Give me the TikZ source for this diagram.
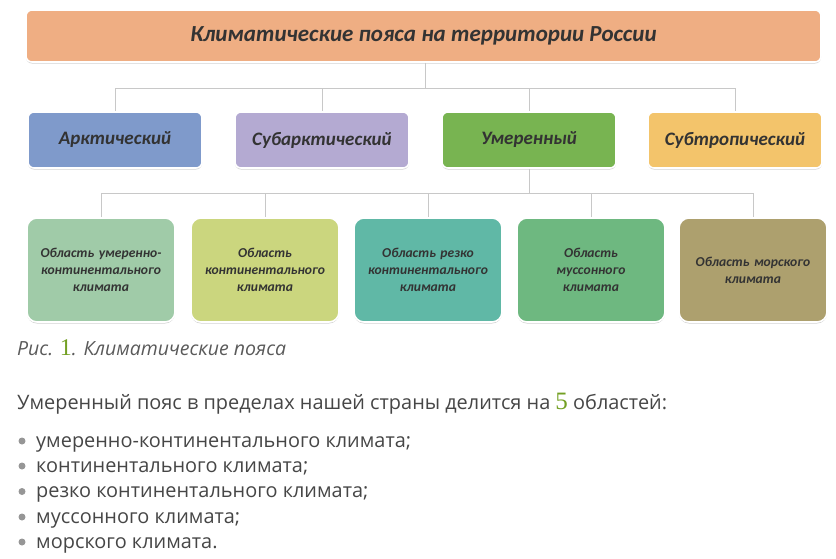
\documentclass[tikz,border=0pt]{standalone}
\usepackage{fontspec}
\setmainfont{Open Sans}
\newfontfamily\boxfont{Carlito}
\newfontfamily\numfont{Liberation Serif}
\usetikzlibrary{shadows,calc}
\definecolor{titlec}{RGB}{239,174,131}
\definecolor{arcc}{RGB}{127,154,203}
\definecolor{subarcc}{RGB}{180,170,210}
\definecolor{umerc}{RGB}{120,180,81}
\definecolor{subtrc}{RGB}{243,196,107}
\definecolor{r1c}{RGB}{160,203,168}
\definecolor{r2c}{RGB}{203,214,126}
\definecolor{r3c}{RGB}{96,184,166}
\definecolor{r4c}{RGB}{110,184,128}
\definecolor{r5c}{RGB}{173,160,110}
\definecolor{linec}{RGB}{200,200,200}
\definecolor{txtc}{RGB}{70,70,70}
\definecolor{capc}{RGB}{90,90,90}
\definecolor{numc}{RGB}{115,160,35}
\definecolor{bulc}{RGB}{150,150,150}
\tikzset{
  boxbase/.style={draw=white, line width=1.6pt, rounded corners=6pt,
    drop shadow={shadow xshift=0pt, shadow yshift=-1.5pt, opacity=0.35, fill=gray},
    font=\boxfont\bfseries\itshape, text=black!80, align=center, inner sep=2pt},
  titlebox/.style={boxbase, fill=titlec, minimum width=795pt, minimum height=52pt, font=\boxfont\bfseries\itshape\fontsize{23}{26}\selectfont},
  beltbox/.style={boxbase, fill=#1, minimum width=174pt, minimum height=56pt, font=\boxfont\bfseries\itshape\fontsize{19}{22}\selectfont},
  areabox/.style={boxbase, rounded corners=10pt, fill=#1, minimum width=148pt, minimum height=104pt, text width=144pt, font=\boxfont\bfseries\itshape\fontsize{13.6}{17}\selectfont},
  conn/.style={draw=linec, line width=1pt},
  bodytxt/.style={anchor=base west, inner sep=0pt, text=txtc, font=\fontsize{19.9}{24}\selectfont},
  bul/.style={circle, fill=bulc, inner sep=0pt, minimum size=7pt}
}
\begin{document}
\begin{tikzpicture}[x=1pt,y=-1pt]
\useasboundingbox (0,0) rectangle (836,558);
% title
\node[titlebox] (title) at (423.5,36) {Климатические пояса на территории России};
% belts
\node[beltbox=arcc] (arc) at (115,140) {Арктический};
\node[beltbox=subarcc] (subarc) at (322,140) {Субарктический};
\node[beltbox=umerc] (umer) at (529,140) {Умеренный};
\node[beltbox=subtrc] (subtr) at (735,140) {Субтропический};
% areas
\node[areabox=r1c] (a1) at (101,270) {Область умеренно-\\континентального\\климата};
\node[areabox=r2c] (a2) at (265,270) {Область\\континентального\\климата};
\node[areabox=r3c] (a3) at (428,270) {Область резко\\континентального\\климата};
\node[areabox=r4c] (a4) at (591,270) {Область\\муссонного\\климата};
\node[areabox=r5c] (a5) at (753,270) {Область морского\\климата};
% connectors
\coordinate (bus1) at (425,88);
\coordinate (bus2) at (529,193);
\draw[conn] (title.south -| bus1) -- (bus1);
\draw[conn] (bus1) -| (arc.north);
\draw[conn] (bus1) -| (subarc.north);
\draw[conn] (bus1) -| (umer.north);
\draw[conn] (bus1) -| (subtr.north);
\draw[conn] (umer.south) -- (bus2);
\draw[conn] (bus2) -| (a1.north);
\draw[conn] (bus2) -| (a2.north);
\draw[conn] (bus2) -| (a3.north);
\draw[conn] (bus2) -| (a4.north);
\draw[conn] (bus2) -| (a5.north);
% caption
\node[anchor=base west, inner sep=0pt, text=capc, font=\itshape\fontsize{19.5}{22}\selectfont] (cap) at (17,355)
  {Рис. {\numfont\upshape\color{numc}\fontsize{24}{26}\selectfont 1}. Климатические пояса};
% main sentence
\node[bodytxt] (sent) at (17,409)
  {Умеренный пояс в пределах нашей страны делится на {\numfont\color{numc}\fontsize{25}{26}\selectfont 5} областей:};
% list
\node[bodytxt] (l1) at (36,447) {умеренно-континентального климата;};
\node[bodytxt] (l2) at (36,472) {континентального климата;};
\node[bodytxt] (l3) at (36,497.5) {резко континентального климата;};
\node[bodytxt] (l4) at (36,523) {муссонного климата;};
\node[bodytxt] (l5) at (36,548) {морского климата.};
\foreach \n in {l1,l2,l3,l4,l5}{
  \node[bul] at ($(\n.base west)+(-14,-6)$) {};
}
\end{tikzpicture}
\end{document}
